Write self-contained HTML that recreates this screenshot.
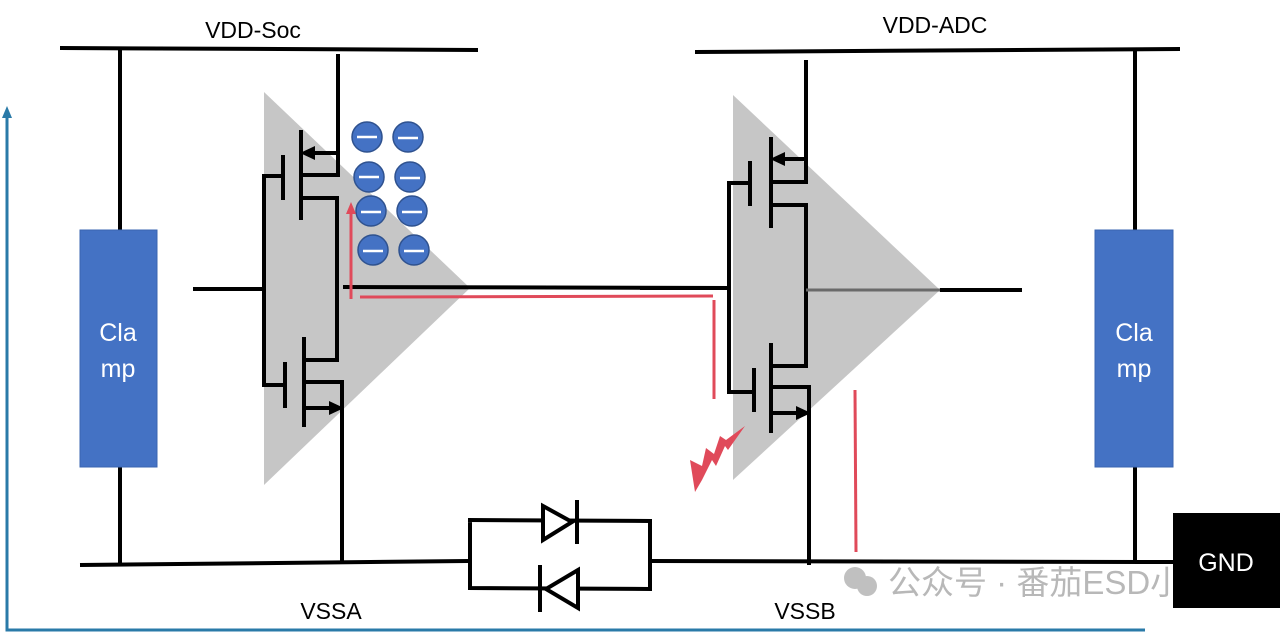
<!DOCTYPE html>
<html><head><meta charset="utf-8"><style>
html,body{margin:0;padding:0;background:#fff;}
svg{display:block;}
text{font-family:"Liberation Sans","Noto Sans CJK SC",sans-serif;}
</style></head><body>
<svg width="1280" height="634" viewBox="0 0 1280 634" xmlns="http://www.w3.org/2000/svg">
<polyline points="7,114 7,630 1145,630" fill="none" stroke="#2a7aa8" stroke-width="3"/>
<polygon points="7,106 2,118 12,118" fill="#2a7aa8"/>
<polygon points="264,92 470,288 264,485" fill="#c6c6c6"/>
<polygon points="733,95 940,290 733,480" fill="#c6c6c6"/>
<!-- watermark -->
<circle cx="855" cy="578" r="11" fill="#c0c0c0"/>
<circle cx="867" cy="586" r="10" fill="#c0c0c0"/>
<text x="888" y="594" fill="#b8b8b8" font-size="33">公众号 · 番茄ESD小</text>
<g stroke="#000" stroke-width="4" fill="none">
<line x1="60" y1="48" x2="478" y2="50"/>
<line x1="120" y1="48" x2="120" y2="230"/>
<line x1="120" y1="467" x2="120" y2="564"/>
<polyline points="80,565 468,561"/>
<polyline points="338,54 338,175 301,175"/>
<line x1="338" y1="153" x2="312" y2="153"/>
<line x1="301" y1="130" x2="301" y2="220"/>
<line x1="283" y1="155" x2="283" y2="200"/>
<polyline points="301,198 337,198 337,360 304,360"/>
<line x1="304" y1="337" x2="304" y2="427"/>
<line x1="285" y1="362" x2="285" y2="408"/>
<polyline points="283,176 264,176 264,385 285,385"/>
<line x1="193" y1="289" x2="264" y2="289"/>
<polyline points="304,382 342,382 342,563"/>
<line x1="304" y1="408" x2="330" y2="408"/>
<line x1="343" y1="287" x2="730" y2="288"/>
<line x1="695" y1="52" x2="1180" y2="49"/>
<line x1="1135" y1="50" x2="1135" y2="230"/>
<line x1="1135" y1="467" x2="1135" y2="562"/>
<line x1="650" y1="561" x2="1175" y2="562"/>
<polyline points="806,60 806,182 771,182"/>
<line x1="806" y1="159" x2="782" y2="159"/>
<line x1="771" y1="137" x2="771" y2="228"/>
<line x1="750" y1="161" x2="750" y2="206"/>
<polyline points="771,205 806,205 806,366 771,366"/>
<line x1="771" y1="343" x2="771" y2="433"/>
<line x1="754" y1="368" x2="754" y2="412"/>
<polyline points="750,183 729,183 729,392 754,392"/>
<line x1="640" y1="288" x2="729" y2="288"/>
<polyline points="771,387 809,387 809,565"/>
<line x1="771" y1="413" x2="798" y2="413"/>
<line x1="940" y1="290" x2="1022" y2="290"/>
<polyline points="468,520 650,521 650,589 470,588 470,520"/>
<polygon points="543,506 572,522 543,540" fill="#fff"/>
<line x1="577" y1="500" x2="577" y2="544"/>
<polygon points="578,570 546,589 578,608" fill="#fff"/>
<line x1="540" y1="565" x2="540" y2="612"/>
</g>
<line x1="806" y1="290" x2="940" y2="290" stroke="#6a6a6a" stroke-width="3"/>
<polygon points="300,153 315,146 315,160" fill="#000"/>
<polygon points="770,159 785,152 785,166" fill="#000"/>
<polygon points="344,408 329,401 329,415" fill="#000"/>
<polygon points="811,413 796,406 796,420" fill="#000"/>
<rect x="80" y="230" width="77" height="237" fill="#4472c4" stroke="#3a64b0"/>
<rect x="1095" y="230" width="78" height="237" fill="#4472c4" stroke="#3a64b0"/>
<g fill="#fff" font-size="25" text-anchor="middle">
<text x="118" y="341">Cla</text><text x="118" y="377">mp</text>
<text x="1134" y="341">Cla</text><text x="1134" y="377">mp</text>
</g>
<g fill="#4472c4" stroke="#2f528f" stroke-width="1.5">
<circle cx="367" cy="137" r="15"/><circle cx="408" cy="137" r="15"/>
<circle cx="369" cy="177" r="15"/><circle cx="410" cy="177" r="15"/>
<circle cx="371" cy="211" r="15"/><circle cx="412" cy="211" r="15"/>
<circle cx="373" cy="250" r="15"/><circle cx="414" cy="250" r="15"/>
</g>
<g stroke="#fff" stroke-width="2.5">
<line x1="357" y1="137" x2="377" y2="137"/><line x1="398" y1="138" x2="418" y2="138"/>
<line x1="359" y1="177" x2="379" y2="177"/><line x1="400" y1="178" x2="420" y2="178"/>
<line x1="361" y1="212" x2="381" y2="212"/><line x1="402" y1="212" x2="422" y2="212"/>
<line x1="363" y1="251" x2="383" y2="251"/><line x1="404" y1="251" x2="424" y2="251"/>
</g>
<g stroke="#e04a5a" stroke-width="3" fill="none">
<line x1="351" y1="299" x2="351" y2="210"/>
<polyline points="360,297 713,296"/>
<line x1="714" y1="300" x2="714" y2="399"/>
<line x1="855" y1="390" x2="856" y2="552"/>
</g>
<polygon points="351,202 346,214 356,214" fill="#e04a5a"/>
<polygon points="745,426 728,450 725,446 716,466 712,460 702,480 695,492 690,460 702,466 706,448 714,454 720,436 726,440" fill="#e04a5a"/>
<rect x="1173" y="513" width="107" height="95" fill="#000"/>
<text x="1226" y="571" fill="#fff" font-size="25" text-anchor="middle">GND</text>
<g fill="#000" font-size="23" text-anchor="middle">
<text x="253" y="38">VDD-Soc</text>
<text x="935" y="33">VDD-ADC</text>
<text x="331" y="619">VSSA</text>
<text x="805" y="619">VSSB</text>
</g>
</svg>
</body></html>
